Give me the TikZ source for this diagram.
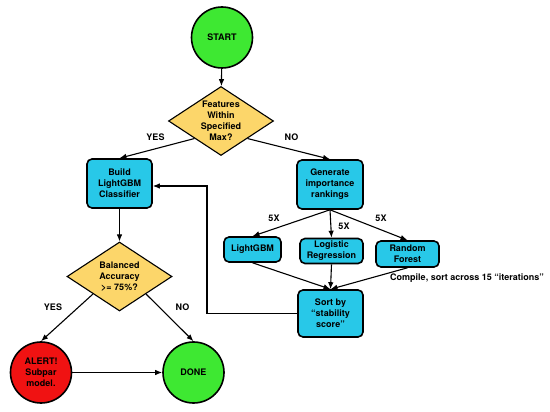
\documentclass[tikz,border=0pt]{standalone}
\usepackage{fontspec}
\setmainfont{TeX Gyre Heros}
\usetikzlibrary{shapes.geometric,arrows.meta,calc}
\definecolor{cgreen}{RGB}{62,232,50}
\definecolor{ccyan}{RGB}{40,200,232}
\definecolor{cyellow}{RGB}{252,214,106}
\definecolor{cred}{RGB}{240,18,18}
\tikzset{
  lbl/.style={font=\fontsize{9}{11}\selectfont\bfseries, align=center},
  circ/.style={lbl, circle, draw, line width=1.6pt, minimum size=61pt, inner sep=0pt},
  box/.style={lbl, rectangle, rounded corners=5pt, draw, fill=ccyan, line width=1.6pt, inner sep=0pt},
  dia/.style={lbl, diamond, draw, fill=cyellow, line width=1.1pt, inner sep=0pt, aspect=1.52, minimum width=105pt, minimum height=69pt},
  arr/.style={line width=1.1pt, -{Latex[length=7pt,width=5.5pt]}},
  txt/.style={lbl, inner sep=0pt}
}
\begin{document}
\begin{tikzpicture}[x=1pt,y=-1pt]
\useasboundingbox (0,0) rectangle (550,412);
\node[circ, fill=cgreen] (start) at (222,37.5) {START};
\node[dia] (d1) at (221,121) {Features\\Within\\Specified\\Max?};
\node[box, minimum width=65pt, minimum height=49pt] (build) at (119.5,183.5) {Build\\LightGBM\\Classifier};
\node[box, minimum width=66pt, minimum height=49pt] (gen) at (330,184.5) {Generate\\importance\\rankings};
\node[box, minimum width=57pt, minimum height=25pt] (lgb) at (252.5,249.5) {LightGBM};
\node[box, minimum width=63pt, minimum height=25pt] (lr) at (331.5,251) {Logistic\\Regression};
\node[box, minimum width=63pt, minimum height=26pt] (rf) at (407.5,254) {Random\\Forest};
\node[box, minimum width=65pt, minimum height=47pt] (sort) at (330.5,313.5) {Sort by\\“stability\\score”};
\node[dia] (d2) at (119.5,276.5) {Balanced\\Accuracy\\>= 75\%?};
\node[circ, fill=cred] (alert) at (41,372.5) {ALERT!\\Subpar\\model.};
\node[circ, fill=cgreen] (done) at (193.5,372.5) {DONE};
\coordinate (fb) at (207,250);

\draw[arr] (start) -- (d1);
\draw[arr] (d1.south west) -- (build.north);
\draw[arr] (d1.south east) -- (gen.north);
\draw[arr] (gen.south) -- (lgb.north);
\draw[arr] (gen.south) -- (lr.north);
\draw[arr] (gen.south) -- (rf.north);
\draw[arr] (lgb.south) -- (sort.north);
\draw[arr] (lr.south) -- (sort.north);
\draw[arr] (rf.south) -- (sort.north);
\draw[arr] (sort.west) -| (fb) |- ($(build.east)+(0,2.5)$);
\draw[arr] (build.south) -- (d2.north);
\draw[arr] (d2.south west) -- (alert.north);
\draw[arr] (d2.south east) -- (done.north);
\draw[arr] (alert.east) -- (done.west);

\node[txt] (yes1) at (155.5,137) {YES};
\node[txt] (no1) at (291.5,137) {NO};
\node[txt] (x1) at (274,218) {5X};
\node[txt] (x2) at (344,226) {5X};
\node[txt] (x3) at (381,218) {5X};
\node[txt, anchor=west] (comp) at (390,278) {Compile, sort across 15 “iterations”};
\node[txt] (yes2) at (53,307) {YES};
\node[txt] (no2) at (182.5,307) {NO};
\end{tikzpicture}
\end{document}
